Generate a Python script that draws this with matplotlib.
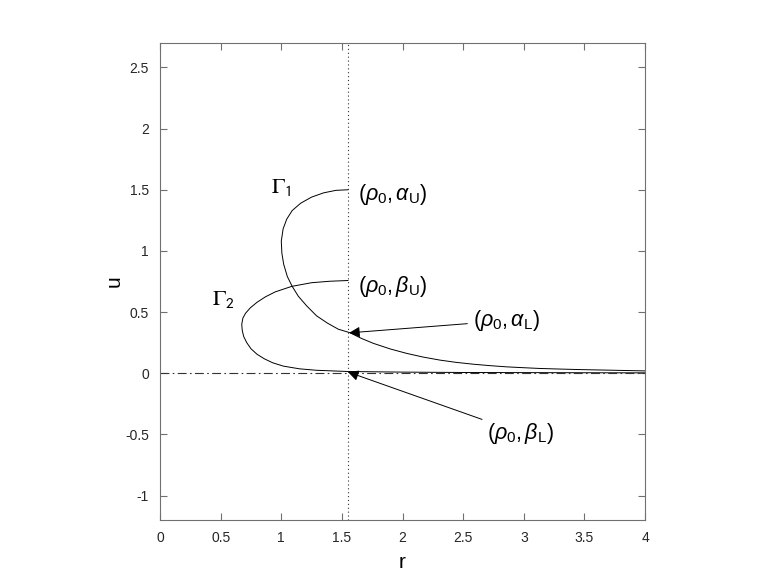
import numpy as np
import matplotlib
matplotlib.use("Agg")
import matplotlib.pyplot as plt

plt.rcParams['font.family'] = ['Liberation Sans', 'DejaVu Sans']
plt.rcParams['axes.unicode_minus'] = False
plt.rcParams['mathtext.fontset'] = 'custom'
plt.rcParams['mathtext.rm'] = 'Liberation Sans'
plt.rcParams['mathtext.it'] = 'Liberation Sans:italic'

# Curve Gamma_1
r_g1 = [1.55, 1.45, 1.35, 1.25, 1.16, 1.09, 1.045, 1.015, 1.00, 1.005, 1.02, 1.05,
        1.09, 1.14, 1.21, 1.29, 1.38, 1.47, 1.567, 1.66, 1.76, 1.90, 2.035, 2.17,
        2.31, 2.44, 2.58, 2.72, 2.86, 3.0, 3.13, 3.3, 3.45, 3.6, 3.75, 3.9, 4.0]
u_g1 = [1.50, 1.495, 1.475, 1.44, 1.39, 1.33, 1.26, 1.18, 1.08, 0.98, 0.89, 0.79,
        0.71, 0.63, 0.55, 0.47, 0.41, 0.36, 0.331, 0.285, 0.244, 0.198, 0.162, 0.132,
        0.107, 0.089, 0.074, 0.062, 0.052, 0.045, 0.039, 0.034, 0.030, 0.027, 0.024,
        0.021, 0.019]

# Curve Gamma_2
r_g2 = [1.55, 1.40, 1.25, 1.086, 0.95, 0.87, 0.80, 0.745, 0.705, 0.683, 0.674,
        0.678, 0.69, 0.715, 0.75, 0.80, 0.86, 0.93, 1.017, 1.15, 1.29, 1.55,
        2.0, 2.5, 3.0, 3.5, 4.0]
u_g2 = [0.758, 0.752, 0.74, 0.71, 0.665, 0.625, 0.58, 0.535, 0.49, 0.45, 0.40,
        0.35, 0.30, 0.25, 0.20, 0.155, 0.118, 0.085, 0.058, 0.036, 0.024, 0.014,
        0.009, 0.006, 0.005, 0.004, 0.003]

rho0 = 1.55

fig = plt.figure(figsize=(7.78, 5.84), dpi=100)
ax = fig.add_axes([0.2057, 0.1096, 0.6234, 0.8168])

ax.plot(r_g1, u_g1, color='k', lw=0.7)
ax.plot(r_g2, u_g2, color='k', lw=0.7)
ax.axvline(rho0, color='#333333', lw=0.8, ls=(0, (1, 2.5)))
ax.axhline(0, color='#333333', lw=0.8, ls=(0, (8, 3, 1.5, 3)))

ax.set_xlim(0, 4)
ax.set_ylim(-1.2, 2.7)
ax.set_xticks(np.arange(0, 4.01, 0.5))
ax.set_yticks(np.arange(-1, 2.51, 0.5))
ax.set_xticklabels(['0', '0.5', '1', '1.5', '2', '2.5', '3', '3.5', '4'])
ax.set_yticklabels(['-1', '-0.5', '0', '0.5', '1', '1.5', '2', '2.5'])
ax.tick_params(direction='in', length=5, width=0.8, top=True, right=True,
               labelsize=10, colors='#707070', labelcolor='#262626', pad=8)
for s in ax.spines.values():
    s.set_color('#707070')
    s.set_linewidth(0.8)

ax.set_xlabel('r', fontsize=15, labelpad=6)
ax.set_ylabel('u', fontsize=15, labelpad=1)

ax.text(1.0, 1.52, r'$\Gamma_{\mathsf{1}}$', fontsize=16, ha='center', va='center',
        math_fontfamily='stix')
ax.text(0.52, 0.60, r'$\Gamma_{\mathsf{2}}$', fontsize=16, ha='center', va='center',
        math_fontfamily='stix')

lab_au = r'$(\rho_{\mathrm{0}},\alpha_{\mathrm{U}})$'
lab_bu = r'$(\rho_{\mathrm{0}},\beta_{\mathrm{U}})$'
lab_al = r'$(\rho_{\mathrm{0}},\alpha_{\mathrm{L}})$'
lab_bl = r'$(\rho_{\mathrm{0}},\beta_{\mathrm{L}})$'

ax.text(1.63, 1.46, lab_au, fontsize=15.5, ha='left', va='center')
ax.text(1.63, 0.71, lab_bu, fontsize=15.5, ha='left', va='center')

ax.annotate(lab_al, xy=(1.56, 0.33), xytext=(2.58, 0.43), fontsize=15.5,
            ha='left', va='center',
            arrowprops=dict(arrowstyle='-|>', color='k', lw=0.7,
                            mutation_scale=16, shrinkA=2, shrinkB=0))
ax.annotate(lab_bl, xy=(1.55, 0.01), xytext=(2.70, -0.49), fontsize=15.5,
            ha='left', va='center',
            arrowprops=dict(arrowstyle='-|>', color='k', lw=0.7,
                            mutation_scale=16, shrinkA=2, shrinkB=0))

fig.savefig('out.png', dpi=100)
